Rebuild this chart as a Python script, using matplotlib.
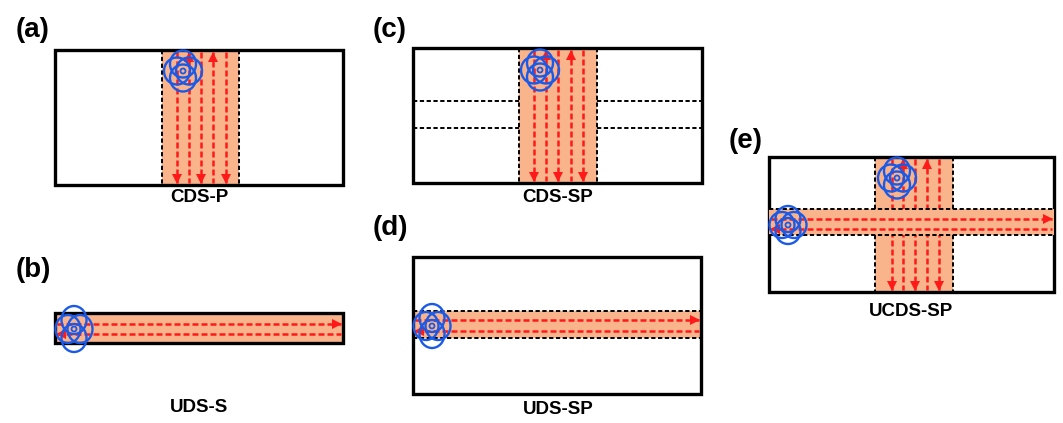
import matplotlib.pyplot as plt
from matplotlib.patches import Rectangle, Ellipse

W, H = 1063, 423
FILL = '#FAB48C'
RED = '#FF1A1A'
BLUE = '#1A5AE6'
FONT = 'Liberation Sans'

panel_tags = ['(a)', '(b)', '(c)', '(d)', '(e)']
tag_xy = [(33, 30), (33, 270), (390, 30), (390, 228), (746, 141)]
names = ['CDS-P', 'UDS-S', 'CDS-SP', 'UDS-SP', 'UCDS-SP']
name_xy = [(199, 198), (199, 408), (558, 198), (558, 410), (911, 312)]

# sample outlines, (x0, y0, x1, y1) in pixels
boxes = [(55, 50, 343, 185), (55, 313, 343, 343), (413, 48, 702, 183),
         (413, 257, 701, 394), (769, 157, 1054, 292)]

# vertical scan tracks: x of each pass and its direction
scan_a = [177, 189, 201, 213, 226]
scan_c = [534, 546, 558, 571, 583]
scan_e = [892, 903, 915, 927, 939]
scan_dirs = ['down', 'up', 'down', 'up', 'down']

fig = plt.figure(figsize=(W / 100, H / 100), dpi=100)
ax = fig.add_axes([0, 0, 1, 1])
ax.set_xlim(0, W)
ax.set_ylim(H, 0)
ax.axis('off')


def outline(x0, y0, x1, y1, fill='none', z=3):
    ax.add_patch(Rectangle((x0, y0), x1 - x0, y1 - y0, fc=fill, ec='black', lw=2.4, zorder=z))


def black_dash(xs, ys):
    ax.plot(xs, ys, color='black', lw=1.4, dashes=(2.2, 1.3), zorder=4)


def red_track(xs, ys, head=None, z=5):
    ax.plot(xs, ys, color=RED, lw=1.8, dashes=(2.4, 1.2), zorder=z)
    if head is not None:
        mk, hx, hy = head
        ax.plot(hx, hy, marker=mk, color=RED, ms=7.5, mew=0, zorder=z)


def vertical_scan(xs, dirs, y0, y1, z=5):
    for x, d in zip(xs, dirs):
        if d == 'down':
            red_track([x, x], [y0, y1], ('v', x, y1 - 4), z)
        else:
            red_track([x, x], [y0, y1], ('^', x, y0 + 5), z)


def horizontal_pair(y_right, y_left, x0, x1):
    red_track([x0, x1], [y_right, y_right], ('>', x1 - 4, y_right))
    red_track([x0, x1], [y_left, y_left], ('<', x0 + 4, y_left))


def flower(cx, cy, dx=6, dy=7, w=26, h=27):
    for ox, oy in [(-dx, 0), (dx, 0), (0, -dy), (0, dy)]:
        ax.add_patch(Ellipse((cx + ox, cy + oy), w, h, fc='none', ec=BLUE, lw=1.7, zorder=8))
    ax.add_patch(Ellipse((cx, cy), 5, 5, fc='none', ec=BLUE, lw=1.3, zorder=8))


for tag, (tx, ty) in zip(panel_tags, tag_xy):
    ax.text(tx, ty, tag, ha='center', va='center', fontsize=20, fontweight='bold', family=FONT)
for name, (nx, ny) in zip(names, name_xy):
    ax.text(nx, ny, name, ha='center', va='center', fontsize=13.5, fontweight='bold', family=FONT)

# (a) CDS-P
x0, y0, x1, y1 = boxes[0]
ax.add_patch(Rectangle((162, y0), 239 - 162, y1 - y0, fc=FILL, ec='none', zorder=2))
black_dash([162, 162], [y0, y1])
black_dash([239, 239], [y0, y1])
vertical_scan(scan_a, scan_dirs, y0 + 2, y1 - 2)
flower(183, 71)
outline(*boxes[0])

# (b) UDS-S
x0, y0, x1, y1 = boxes[1]
outline(x0, y0, x1, y1, fill=FILL, z=2)
horizontal_pair(324, 334, x0 + 2, x1 - 2)
flower(74, 329, dx=6, dy=9, w=25, h=28)

# (c) CDS-SP
x0, y0, x1, y1 = boxes[2]
ax.add_patch(Rectangle((519, y0), 597 - 519, y1 - y0, fc=FILL, ec='none', zorder=2))
black_dash([519, 519], [y0, y1])
black_dash([597, 597], [y0, y1])
for yy in (101, 128):
    black_dash([x0, 519], [yy, yy])
    black_dash([597, x1], [yy, yy])
vertical_scan(scan_c, scan_dirs, y0 + 2, y1 - 2)
flower(540, 70)
outline(*boxes[2])

# (d) UDS-SP
x0, y0, x1, y1 = boxes[3]
ax.add_patch(Rectangle((x0, 311), x1 - x0, 338 - 311, fc=FILL, ec='none', zorder=2))
black_dash([x0, x1], [311, 311])
black_dash([x0, x1], [338, 338])
horizontal_pair(320, 331, x0 + 2, x1 - 2)
flower(432, 326, dx=6, dy=8, w=25, h=28)
outline(*boxes[3])

# (e) UCDS-SP: crossed vertical and horizontal bands
x0, y0, x1, y1 = boxes[4]
ax.add_patch(Rectangle((875, y0), 953 - 875, y1 - y0, fc=FILL, ec='none', zorder=2))
vertical_scan(scan_e, scan_dirs, y0 + 2, y1 - 2, z=3)
ax.add_patch(Rectangle((x0, 209), x1 - x0, 235 - 209, fc=FILL, ec='none', zorder=3.5))
black_dash([x0, x1], [209, 209])
black_dash([x0, x1], [235, 235])
for xx in (875, 953):
    black_dash([xx, xx], [y0, 209])
    black_dash([xx, xx], [235, y1])
horizontal_pair(219, 229, x0 + 2, x1 - 2)
flower(897, 178)
flower(788, 225, dx=6, dy=6, w=25, h=26)
outline(*boxes[4])

fig.savefig('out.png', dpi=100)
